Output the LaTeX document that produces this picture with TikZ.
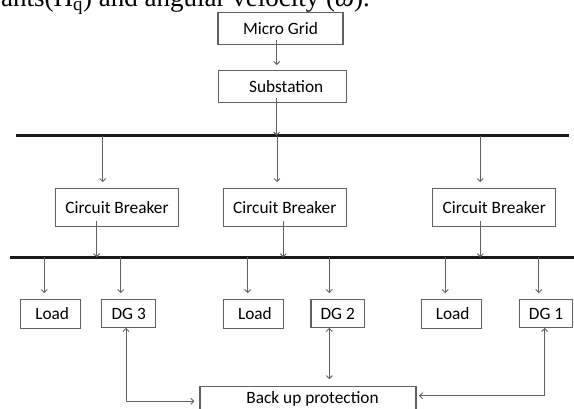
\documentclass[tikz,border=0pt]{standalone}
\usepackage{fontspec}
\setmainfont{Carlito}
\newfontfamily\paperfont{Liberation Serif}
\usetikzlibrary{arrows.meta}

\begin{document}
\begin{tikzpicture}[x=1pt,y=-1pt,>={Straight Barb[length=3pt,width=6pt]},
  blk/.style={draw=black!62,line width=1.3pt,inner sep=0pt,text=black,
    font=\fontsize{17.3}{20}\selectfont},
  wire/.style={draw=black!62,line width=0.9pt},
  bus/.style={draw=black!90,line width=2.8pt}]
  \useasboundingbox (0,0) rectangle (574,408);
  \clip (0,0) rectangle (574,408);
  % cut line of the page text
  \node[anchor=base west,inner sep=0pt,font=\paperfont\fontsize{27}{30}\selectfont] (pagetext) at (1,6.8)
    {ants(H\textsubscript{q}) and angular velocity (\textit{ω}).};
  % boxes
  \node[blk,minimum width=125pt,minimum height=31.6pt] (grid) at (280.5,28.5) {Micro Grid};
  \node[blk,minimum width=128pt,minimum height=31.6pt] (sub) at (282.2,86.5) {\hspace{8pt}Substation};
  \node[blk,minimum width=122.6pt,minimum height=38pt] (cb1) at (117,207.3) {Circuit Breaker\hspace{4pt}};
  \node[blk,minimum width=123pt,minimum height=38pt] (cb2) at (284.8,207.3) {Circuit Breaker\hspace{4pt}};
  \node[blk,minimum width=123pt,minimum height=38pt] (cb3) at (494.2,207.3) {Circuit Breaker\hspace{4pt}};
  \node[blk,minimum width=60pt,minimum height=28.5pt] (load1) at (50.7,314) {\hspace{3pt}Load};
  \node[blk,minimum width=54pt,minimum height=27.5pt] (dg3) at (128.7,313.5) {DG 3};
  \node[blk,minimum width=60pt,minimum height=28.5pt] (load2) at (253.4,314) {\hspace{3pt}Load};
  \node[blk,minimum width=53.3pt,minimum height=27.5pt] (dg2) at (337.7,313.5) {DG 2};
  \node[blk,minimum width=60pt,minimum height=28.5pt] (load3) at (451.2,314) {\hspace{3pt}Load};
  \node[blk,minimum width=52.8pt,minimum height=27.5pt] (dg1) at (546.1,313.5) {DG 1};
  \node[blk,anchor=north,minimum width=216pt,inner ysep=5pt,text height=12pt,text depth=20pt] (backup)
    at (308,385.7) {\hspace{9pt}Back up protection};
  % buses
  \coordinate (bus1l) at (16,135.7);
  \coordinate (bus1r) at (569,135.7);
  \coordinate (bus2l) at (10,257.3);
  \coordinate (bus2r) at (574,257.3);
  \draw[bus] (bus1l) -- (bus1r);
  \draw[bus] (bus2l) -- (bus2r);
  % feed
  \coordinate (g) at (276.7,40);
  \coordinate (s) at (276.7,98);
  \draw[wire,->,shorten >=5pt] (g) -- (g |- sub.north);
  \draw[wire,->] (s) -- (s |- bus1l);
  \foreach \x/\b in {102.7/cb1,277/cb2,480.3/cb3}
    \draw[wire,->,shorten >=5.5pt] (\x,135.7) -- (\x,135.7 |- \b.north);
  \foreach \x in {96.7,283.3,480.3}
    \draw[wire,->] (\x,221) -- (\x,257.3);
  \foreach \x/\b in {44.3/load1,120.7/dg3,247.7/load2,329.3/dg2,445.3/load3,538.7/dg1}
    \draw[wire,->,shorten >=6pt] (\x,257.3) -- (\x,257.3 |- \b.north);
  % back up links
  \coordinate (k3) at (126,401.3);
  \coordinate (k2) at (329.3,360);
  \coordinate (k1) at (544.7,395.7);
  \draw[wire,<->,shorten >=5pt] (k3 |- dg3.south) -- (k3) -- (k3 -| backup.west);
  \draw[wire,<->,shorten >=6.5pt] (k2 |- dg2.south) -- (k2 |- backup.north);
  \draw[wire,<->,shorten >=2.5pt] (k1 |- dg1.south) -- (k1) -- (k1 -| backup.east);
\end{tikzpicture}
\end{document}
